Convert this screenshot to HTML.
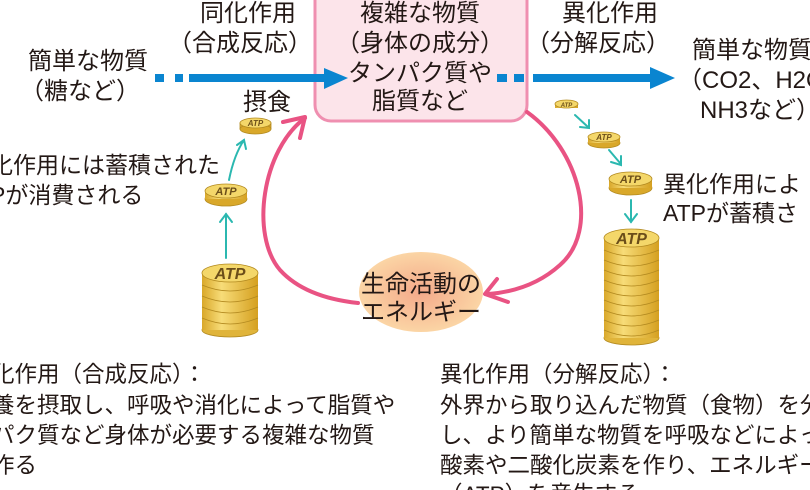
<!DOCTYPE html>
<html><head><meta charset="utf-8"><style>
html,body{margin:0;padding:0;background:#fff;}
svg{display:block;}
text{font-family:"Liberation Sans","Noto Sans CJK JP",sans-serif;fill:#231815;}
</style></head><body>
<svg width="810" height="490" viewBox="0 0 810 490" xmlns="http://www.w3.org/2000/svg">
<defs>
<radialGradient id="eg" cx="50%" cy="50%" r="50%">
<stop offset="0" stop-color="#f4a98a"/><stop offset="1" stop-color="#fbd5a5"/>
</radialGradient>
<linearGradient id="cg" x1="0" x2="1" y1="0" y2="0">
<stop offset="0" stop-color="#d9a82a"/><stop offset="0.35" stop-color="#f7dc78"/><stop offset="1" stop-color="#d5a020"/>
</linearGradient>
</defs>

<rect x="315" y="-20" width="212" height="141" rx="16" fill="#fce4ea" stroke="#ef8fb0" stroke-width="3"/>
<g font-size="24" text-anchor="middle">
<text x="420" y="21">複雑な物質</text>
<text x="420" y="51">（身体の成分）</text>
<text x="420" y="81">タンパク質や</text>
<text x="420" y="109">脂質など</text>
</g>

<g font-size="24">
<text x="248" y="21" text-anchor="middle">同化作用</text>
<text x="240" y="51" text-anchor="middle">（合成反応）</text>
<text x="28" y="69">簡単な物質</text>
<text x="20" y="99">（糖など）</text>
<text x="243" y="110">摂食</text>
</g>
<g font-size="23">
<text x="-10" y="173">化作用には蓄積された</text>
<text x="-10" y="203">Pが消費される</text>
</g>
<g font-size="24">
<text x="610" y="21" text-anchor="middle">異化作用</text>
<text x="598" y="51" text-anchor="middle">（分解反応）</text>
<text x="692" y="58">簡単な物質</text>
<text x="678" y="88">（CO2、H2O</text>
<text x="700" y="118">NH3など）</text>
</g>
<g font-size="23">
<text x="663" y="192">異化作用によ</text>
<text x="663" y="221">ATPが蓄積さ</text>
</g>

<g fill="#0a85d0">
<rect x="155" y="74" width="9" height="8"/>
<rect x="175" y="74" width="8" height="8"/>
<rect x="189" y="74" width="138" height="8"/>
<polygon points="324,68 348,78 324,89"/>
<rect x="497" y="74" width="10" height="8"/>
<rect x="514" y="74" width="10" height="8"/>
<rect x="533" y="74" width="120" height="8"/>
<polygon points="650,67 675,78 650,89"/>
</g>

<g fill="none" stroke="#e95383" stroke-width="4" stroke-linecap="round" stroke-linejoin="round">
<path d="M305,118 C262,150 250,235 280,270 C300,292 330,300 358,303"/>
<polyline points="283,122 305,117 300,138"/>
<path d="M527,112 C580,150 600,230 560,265 C540,283 515,292 488,294"/>
<polyline points="497,279 485,294 508,302"/>
</g>

<ellipse cx="421" cy="292" rx="62" ry="40" fill="url(#eg)"/>
<g font-size="24" text-anchor="middle">
<text x="421" y="292">生命活動の</text>
<text x="421" y="320">エネルギー</text>
</g>

<g fill="none" stroke="#2bb8b0" stroke-width="2" stroke-linecap="round">
<path d="M229,180 C232,165 236,152 244,140"/><polyline points="237,145 244,140 246,149"/>
<path d="M226,258 L226,214"/><polyline points="220,222 226,214 232,222"/>
<path d="M575,115 L588,127"/><polyline points="580,127 589,128 589,120"/>
<path d="M609,150 L620,163"/><polyline points="611,162 621,165 621,156"/>
<path d="M631,200 L631,222"/><polyline points="625,214 631,222 637,214"/>
</g>

<g stroke="#b38a20" stroke-width="0.8">
<rect x="240" y="123" width="31" height="6" fill="url(#cg)"/>
<ellipse cx="255.5" cy="129" rx="15.5" ry="5" fill="#d9a82a"/>
<ellipse cx="255.5" cy="123" rx="15.5" ry="5" fill="#f4d76a"/>
<ellipse cx="226" cy="199" rx="21" ry="7" fill="#d9a82a"/>
<rect x="205" y="191" width="42" height="8" fill="url(#cg)" stroke="none"/>
<ellipse cx="226" cy="191" rx="21" ry="7" fill="#f4d76a"/>
<ellipse cx="230" cy="330" rx="28" ry="7" fill="#e0b43a"/>
<rect x="202" y="273" width="56" height="57" fill="url(#cg)" stroke="none"/>
<path d="M202,285 q28,12 56,0 M202,296 q28,12 56,0 M202,307 q28,12 56,0 M202,318 q28,12 56,0" fill="none"/>
<ellipse cx="230" cy="273" rx="28" ry="9" fill="#f4d76a"/>
<rect x="555" y="104" width="23" height="4" fill="url(#cg)" stroke="none"/>
<ellipse cx="566.5" cy="104" rx="11.5" ry="4" fill="#f4d76a"/>
<ellipse cx="604" cy="143" rx="16" ry="5" fill="#d9a82a"/>
<rect x="588" y="137" width="32" height="6" fill="url(#cg)" stroke="none"/>
<ellipse cx="604" cy="137" rx="16" ry="5" fill="#f4d76a"/>
<ellipse cx="630.5" cy="188" rx="21.5" ry="7" fill="#d9a82a"/>
<rect x="609" y="179" width="43" height="9" fill="url(#cg)" stroke="none"/>
<ellipse cx="630.5" cy="179" rx="21.5" ry="7" fill="#f4d76a"/>
<ellipse cx="631.5" cy="338" rx="27.5" ry="7" fill="#e0b43a"/>
<rect x="604" y="238" width="55" height="100" fill="url(#cg)" stroke="none"/>
<path d="M604,250 q27,12 55,0 M604,260 q27,12 55,0 M604,270 q27,12 55,0 M604,280 q27,12 55,0 M604,290 q27,12 55,0 M604,300 q27,12 55,0 M604,310 q27,12 55,0 M604,320 q27,12 55,0 M604,330 q27,12 55,0" fill="none"/>
<ellipse cx="631.5" cy="238" rx="27.5" ry="9" fill="#f4d76a"/>
</g>
<g font-style="italic" font-weight="bold" text-anchor="middle">
<text x="255.5" y="126" font-size="8" style="fill:#6b4e1a">ATP</text>
<text x="226" y="195" font-size="11" style="fill:#6b4e1a">ATP</text>
<text x="230" y="279" font-size="16" style="fill:#6b4e1a">ATP</text>
<text x="566.5" y="107" font-size="6" style="fill:#6b4e1a">ATP</text>
<text x="604" y="140" font-size="8" style="fill:#6b4e1a">ATP</text>
<text x="630.5" y="183" font-size="11" style="fill:#6b4e1a">ATP</text>
<text x="631.5" y="244" font-size="16" style="fill:#6b4e1a">ATP</text>
</g>

<g font-size="22.5">
<text x="-8" y="382">化作用（合成反応）：</text>
<text x="-8" y="413">養を摂取し、呼吸や消化によって脂質や</text>
<text x="-8" y="443">パク質など身体が必要する複雑な物質</text>
<text x="-8" y="473">作る</text>
<text x="440" y="382">異化作用（分解反応）：</text>
<text x="440" y="413">外界から取り込んだ物質（食物）を分解</text>
<text x="440" y="443">し、より簡単な物質を呼吸などによって</text>
<text x="440" y="473">酸素や二酸化炭素を作り、エネルギー</text>
<text x="440" y="502">（ATP）を産生する</text>
</g>
</svg>
</body></html>
